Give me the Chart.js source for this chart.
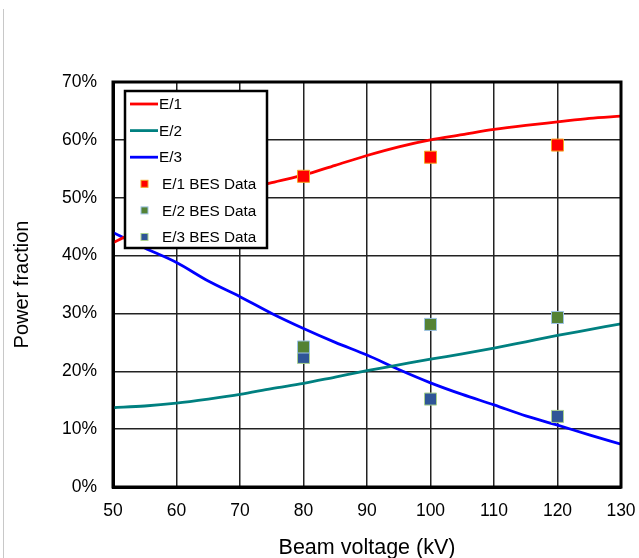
<!DOCTYPE html>
<html>
<head>
<meta charset="utf-8">
<script src="https://cdn.jsdelivr.net/npm/chart.js@4"></script>
<style>
  html, body { margin: 0; padding: 0; background: #fff; }
  #wrap { position: relative; width: 639px; height: 558px; }
  #edge { position: absolute; left: 3px; top: 9px; width: 1px; height: 549px; background: #c8c8c8; }
</style>
</head>
<body>
<div id="wrap">
  <div id="edge"></div>
  <canvas id="chart" width="639" height="558"></canvas>
</div>
<script>
// beam voltage (kV) for the model curves
const voltage = [50, 55, 60, 65, 70, 75, 80, 85, 90, 95, 100, 105, 110, 115, 120, 125, 130];
const e1 = [42.2, 44.9, 47.3, 49.3, 51.1, 52.6, 53.9, 55.6, 57.3, 58.8, 60.0, 60.9, 61.8, 62.5, 63.1, 63.7, 64.1];
const e2 = [13.7, 14.0, 14.5, 15.2, 16.0, 17.0, 17.9, 19.0, 20.1, 21.1, 22.1, 23.0, 24.0, 25.1, 26.2, 27.2, 28.2];
const e3 = [44.0, 41.3, 38.8, 35.6, 32.9, 30.0, 27.4, 25.0, 22.8, 20.3, 18.0, 16.0, 14.2, 12.3, 10.7, 9.0, 7.4];

// BES measurements
const besVoltage = [80, 100, 120];
const besE1 = [53.7, 57.0, 59.1];
const besE2 = [24.2, 28.1, 29.3];
const besE3 = [22.4, 15.2, 12.2];

const xTicks = [50, 60, 70, 80, 90, 100, 110, 120, 130];
const yTicks = [0, 10, 20, 30, 40, 50, 60, 70];

const FONT = "'Liberation Sans', Arial, sans-serif";

function pts(xs, ys) {
  return xs.map((x, i) => ({ x: x, y: ys[i] }));
}

function lineSet(label, ys, color) {
  return {
    type: "line",
    label: label,
    data: pts(voltage, ys),
    borderColor: color,
    backgroundColor: color,
    borderWidth: 2.8,
    pointRadius: 0,
    cubicInterpolationMode: "monotone",
    order: 2,
  };
}

function besSet(label, ys, fill, edge) {
  return {
    type: "scatter",
    label: label,
    data: pts(besVoltage, ys),
    backgroundColor: fill,
    borderColor: edge,
    borderWidth: 1,
    pointStyle: "rect",
    pointRadius: 8.5,
    order: 1,
  };
}

// frame round the plot and the boxed legend inside it
const framePlugin = {
  id: "frame",
  afterDraw(chart) {
    const ctx = chart.ctx;
    const a = chart.chartArea;
    ctx.save();
    ctx.strokeStyle = "#000";
    ctx.lineWidth = 3;
    ctx.strokeRect(a.left, a.top, a.right - a.left, a.bottom - a.top);

    const bx = 125, by = 91, bw = 142, bh = 157;
    ctx.fillStyle = "#fff";
    ctx.fillRect(bx, by, bw, bh);
    ctx.lineWidth = 2.5;
    ctx.strokeRect(bx, by, bw, bh);

    ctx.font = "15.3px " + FONT;
    ctx.textBaseline = "middle";
    ctx.textAlign = "left";
    chart.data.datasets.forEach((ds, i) => {
      const y = by + 13 + i * 26.6;
      if (ds.type === "line") {
        ctx.strokeStyle = ds.borderColor;
        ctx.lineWidth = 2.8;
        ctx.beginPath();
        ctx.moveTo(130, y);
        ctx.lineTo(158, y);
        ctx.stroke();
        ctx.fillStyle = "#000";
        ctx.fillText(ds.label, 159, y + 1);
      } else {
        ctx.fillStyle = ds.backgroundColor;
        ctx.fillRect(141, y - 3.5, 7, 7);
        ctx.strokeStyle = ds.borderColor;
        ctx.lineWidth = 1;
        ctx.strokeRect(141, y - 3.5, 7, 7);
        ctx.fillStyle = "#000";
        ctx.fillText(ds.label, 162, y + 1);
      }
    });
    ctx.restore();
  },
};

new Chart(document.getElementById("chart"), {
  data: {
    datasets: [
      lineSet("E/1", e1, "#ff0000"),
      lineSet("E/2", e2, "#008080"),
      lineSet("E/3", e3, "#0000ff"),
      besSet("E/1 BES Data", besE1, "#ff0000", "#f5a623"),
      besSet("E/2 BES Data", besE2, "#548235", "#9dc3e6"),
      besSet("E/3 BES Data", besE3, "#2f5597", "#a9d18e"),
    ],
  },
  options: {
    responsive: false,
    animation: false,
    layout: { padding: { left: 0, top: 82, right: 18, bottom: 0 } },
    plugins: {
      legend: { display: false },
      tooltip: { enabled: false },
    },
    scales: {
      x: {
        type: "linear",
        min: 50,
        max: 130,
        afterBuildTicks: (s) => { s.ticks = xTicks.map((v) => ({ value: v })); },
        afterFit: (s) => { s.height = 71; s.paddingLeft = 0; s.paddingRight = 0; },
        grid: { color: "#222", lineWidth: 1.5, drawTicks: false },
        border: { color: "#000", width: 3 },
        ticks: { padding: 14, color: "#000", font: { family: FONT, size: 17.5 } },
        title: {
          display: true,
          text: "Beam voltage (kV)",
          color: "#000",
          font: { family: FONT, size: 21.5 },
          padding: { top: 0, bottom: -3 },
        },
      },
      y: {
        type: "linear",
        min: 0,
        max: 70,
        afterBuildTicks: (s) => { s.ticks = yTicks.map((v) => ({ value: v })); },
        afterFit: (s) => { s.width = 113; },
        grid: { color: "#222", lineWidth: 1.5, drawTicks: false },
        border: { color: "#000", width: 3 },
        ticks: {
          padding: 16,
          color: "#000",
          font: { family: FONT, size: 17.5 },
          callback: (v) => v + "%",
        },
        title: {
          display: true,
          text: "Power fraction",
          color: "#000",
          font: { family: FONT, size: 20 },
          padding: { top: 10, bottom: 0 },
        },
      },
    },
  },
  plugins: [framePlugin],
});
</script>
</body>
</html>
